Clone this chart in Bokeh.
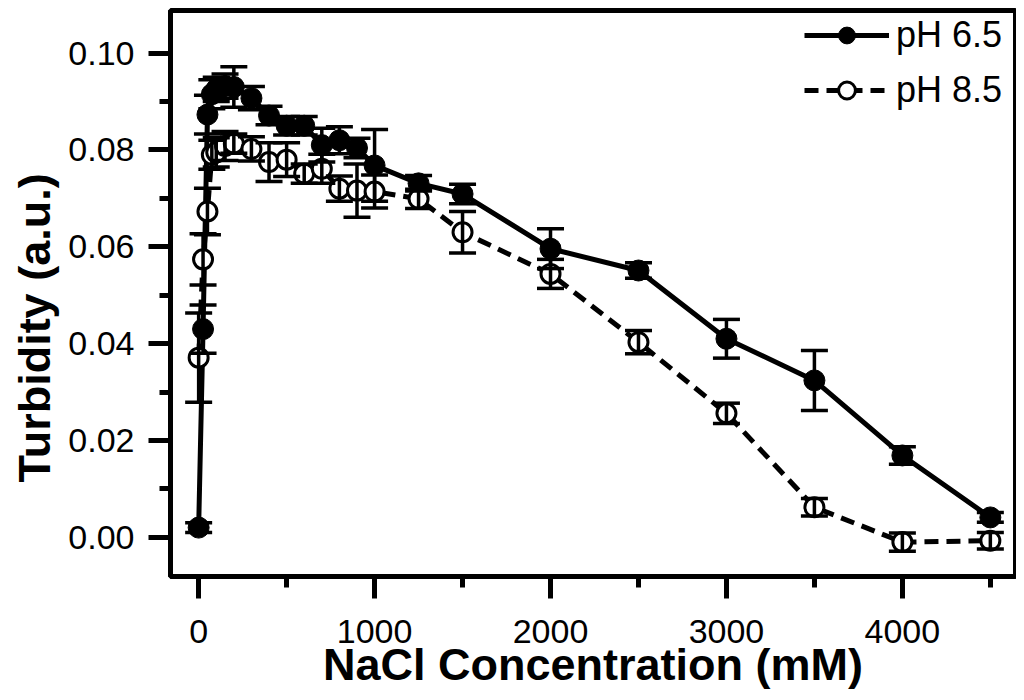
from bokeh.plotting import figure
from bokeh.models import (Range1d, FixedTicker, PrintfTickFormatter, ColumnDataSource,
                          Whisker, TeeHead, Legend, LegendItem, Title)
from bokeh.embed import file_html
from bokeh.resources import INLINE

# ---- data ----
nacl_65 = [0, 25, 50, 75, 100, 150, 200, 300, 400, 500, 600, 700, 800, 900, 1000,
           1250, 1500, 2000, 2500, 3000, 3500, 4000, 4500]
turb_65 = [0.0020, 0.0430, 0.0873, 0.0915, 0.0925, 0.0932, 0.0930, 0.0907, 0.0871, 0.0850,
           0.0850, 0.0810, 0.0820, 0.0804, 0.0768, 0.0731, 0.0709, 0.0596, 0.0551, 0.0410,
           0.0324, 0.0169, 0.0041]
err_65 = [0.0010, 0.0050, 0.0040, 0.0030, 0.0025, 0.0025, 0.0042, 0.0024, 0.0019, 0.0019,
          0.0019, 0.0035, 0.0028, 0.0020, 0.0074, 0.0016, 0.0020, 0.0041, 0.0016, 0.0040,
          0.0062, 0.0018, 0.0010]

nacl_85 = [0, 25, 50, 75, 100, 150, 200, 300, 400, 500, 600, 700, 800, 900, 1000,
           1250, 1500, 2000, 2500, 3000, 3500, 4000, 4500]
turb_85 = [0.0371, 0.0574, 0.0673, 0.0790, 0.0795, 0.0808, 0.0813, 0.0802, 0.0775, 0.0780,
           0.0751, 0.0761, 0.0720, 0.0716, 0.0714, 0.0699, 0.0630, 0.0544, 0.0403, 0.0256,
           0.0062, -0.0010, -0.0007]
err_85 = [0.0092, 0.0053, 0.0048, 0.0030, 0.0030, 0.0030, 0.0020, 0.0025, 0.0040, 0.0035,
          0.0020, 0.0030, 0.0026, 0.0055, 0.0034, 0.0020, 0.0043, 0.0030, 0.0024, 0.0021,
          0.0018, 0.0019, 0.0017]

x_major_ticks = [0, 1000, 2000, 3000, 4000]
x_minor_ticks = [500, 1500, 2500, 3500, 4500]
y_major_ticks = [0.00, 0.02, 0.04, 0.06, 0.08, 0.10]
y_minor_ticks = [0.01, 0.03, 0.05, 0.07, 0.09]

labels = ["pH 6.5", "pH 8.5"]
x_title = "NaCl Concentration (mM)"
y_title = "Turbidity (a.u.)"

FONT = "Liberation Sans"

p = figure(width=1016, height=700, output_backend="svg", toolbar_location=None,
           x_range=Range1d(-160, 4643), y_range=Range1d(-0.0081, 0.1088),
           min_border_left=168, min_border_top=10, min_border_right=1, min_border_bottom=124)
p.xgrid.visible = False
p.ygrid.visible = False
p.outline_line_color = "black"
p.outline_line_width = 5
p.background_fill_color = "white"
p.border_fill_color = "white"

for ax in (p.xaxis[0], p.yaxis[0]):
    ax.axis_line_width = 5
    ax.major_tick_line_width = 5
    ax.minor_tick_line_width = 5
    ax.major_tick_out = 22
    ax.major_tick_in = 0
    ax.minor_tick_out = 11
    ax.minor_tick_in = 0
    ax.major_label_text_font = FONT
    ax.major_label_text_font_size = "34px"
    ax.major_label_text_color = "black"
    ax.axis_label_text_font = FONT
    ax.axis_label_text_font_style = "bold"
    ax.axis_label_text_font_size = "45px"
    ax.axis_label_text_color = "black"

p.xaxis[0].ticker = FixedTicker(ticks=x_major_ticks, minor_ticks=x_minor_ticks)
p.yaxis[0].ticker = FixedTicker(ticks=y_major_ticks, minor_ticks=y_minor_ticks)
p.yaxis[0].formatter = PrintfTickFormatter(format="%.2f")
p.xaxis[0].major_label_standoff = 21
p.yaxis[0].major_label_standoff = 14
p.xaxis[0].axis_label = x_title
p.xaxis[0].axis_label_standoff = -7

src65 = ColumnDataSource(dict(x=nacl_65, y=turb_65,
                              lo=[v - e for v, e in zip(turb_65, err_65)],
                              hi=[v + e for v, e in zip(turb_65, err_65)]))
src85 = ColumnDataSource(dict(x=nacl_85, y=turb_85,
                              lo=[v - e for v, e in zip(turb_85, err_85)],
                              hi=[v + e for v, e in zip(turb_85, err_85)]))

l65 = p.line("x", "y", source=src65, line_color="black", line_width=5)
m65 = p.scatter("x", "y", source=src65, marker="circle", size=21,
                fill_color="black", line_color="black", line_width=1)
l85 = p.line("x", "y", source=src85, line_color="black", line_width=5, line_dash="14 8")
m85 = p.scatter("x", "y", source=src85, marker="circle", size=19,
                fill_color="white", line_color="black", line_width=3)

for src in (src65, src85):
    w = Whisker(base="x", upper="hi", lower="lo", source=src, dimension="height",
                line_color="black", line_width=3.5, level="annotation",
                upper_head=TeeHead(size=27, line_width=3.5, line_color="black"),
                lower_head=TeeHead(size=27, line_width=3.5, line_color="black"))
    p.add_layout(w)

legend = Legend(items=[LegendItem(label=labels[0], renderers=[l65, m65]),
                       LegendItem(label=labels[1], renderers=[l85, m85])],
                location=(630, 461), orientation="vertical",
                glyph_width=85, glyph_height=42, label_height=42, spacing=13,
                padding=4, margin=0, label_standoff=7,
                label_text_font=FONT, label_text_font_size="36px", label_text_color="black",
                border_line_alpha=0, background_fill_alpha=0)
p.add_layout(legend)

ytitle = Title(text=y_title, align="left", offset=94, standoff=12,
               text_font=FONT, text_font_style="bold", text_font_size="45px",
               text_color="black")
p.add_layout(ytitle, "left")

open("out.html", "w").write(file_html(p, INLINE))
